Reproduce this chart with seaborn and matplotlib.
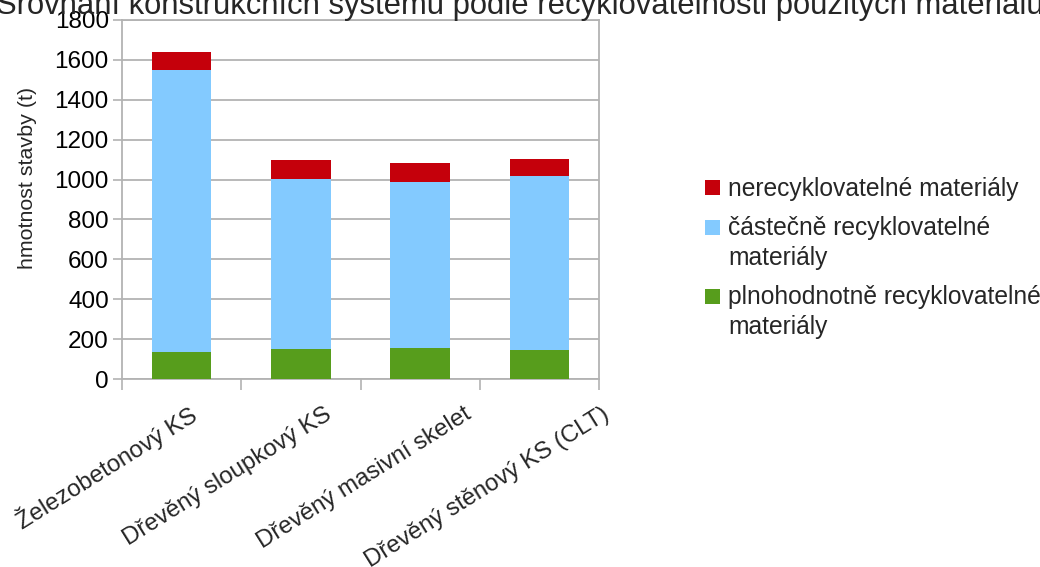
import numpy as np
import pandas as pd
import seaborn as sns
import matplotlib.pyplot as plt
from matplotlib.patches import Patch, Rectangle
from matplotlib.legend_handler import HandlerPatch
from matplotlib.transforms import ScaledTranslation

# Structural systems compared
systems = [
    "Železobetonový KS",
    "Dřevěný sloupkový KS",
    "Dřevěný masivní skelet",
    "Dřevěný stěnový KS (CLT)",
]

# Mass of the building by material recyclability (t)
fully_recyclable = [135, 150, 155, 145]
partly_recyclable = [1415, 853, 833, 873]
non_recyclable = [90, 95, 95, 85]

series_labels = [
    "nerecyklovatelné materiály",
    "částečně recyklovatelné\nmateriály",
    "plnohodnotně recyklovatelné\nmateriály",
]
series_colors = ["#C5000B", "#83CAFF", "#579D1C"]
y_ticks = list(range(0, 1801, 200))

title = "Srovnání konstrukčních systému podle recyklovatelnosti použitých materiálů"
y_label = "hmotnost stavby (t)"

sns.set_theme(style="white")
plt.rcParams["font.family"] = ["Liberation Sans", "DejaVu Sans"]

W, H = 1040, 567
fig = plt.figure(figsize=(W / 100, H / 100), dpi=100)
ax = fig.add_axes([122 / W, 1 - 379 / H, 477 / W, 359 / H])

green = np.array(fully_recyclable)
blue_top = green + np.array(partly_recyclable)
red_top = blue_top + np.array(non_recyclable)

# stacked bars: draw the cumulative tops first, then cover with lower layers
for heights, color in [(red_top, series_colors[0]),
                       (blue_top, series_colors[1]),
                       (green, series_colors[2])]:
    sns.barplot(x=systems, y=heights, color=color, saturation=1,
                width=0.5, linewidth=0, ax=ax, zorder=3)

ax.set_xlim(-0.5, 3.5)
ax.set_ylim(0, 1800)
ax.set_yticks(y_ticks)
ax.yaxis.grid(True, color="#b3b3b3", linewidth=1.3, zorder=0)
ax.set_axisbelow(True)
for s in ax.spines.values():
    s.set_color("#b3b3b3")
    s.set_linewidth(1.3)

ax.tick_params(axis="y", which="major", direction="out", length=6.5,
               width=1.2, color="#b3b3b3", pad=3, labelsize=17.5,
               left=True, labelcolor="black")
ax.set_xticks(range(len(systems)))
ax.set_xticks([-0.5, 0.5, 1.5, 2.5, 3.5], minor=True)
ax.tick_params(axis="x", which="major", length=0, pad=24, labelsize=17.3)
ax.tick_params(axis="x", which="minor", direction="out", length=7.7,
               width=1.2, color="#b3b3b3", bottom=True)

ax.set_xticklabels(systems, rotation=32, ha="right", va="center",
                   rotation_mode="anchor")
label_shift_px = [13, 29, 49, 68]
for lbl, dx in zip(ax.get_xticklabels(), label_shift_px):
    lbl.set_transform(lbl.get_transform() +
                      ScaledTranslation(dx / 100, 0, fig.dpi_scale_trans))

ax.set_ylabel(y_label, fontsize=15.4, va="center")
ax.yaxis.set_label_coords(-0.199, 0.56)
ax.set_xlabel("")

fig.text(520 / W, 1 - 14 / H, title, ha="center", va="baseline", fontsize=22.3)

# legend: swatch sits beside the first line of a wrapped label
legend_size = 17.7
line_spacing = 1.33
lift_pt = 0.5 * legend_size * line_spacing * 0.99


def first_line_patch(legend, orig_handle, xdescent, ydescent, width, height, fontsize):
    n_lines = orig_handle.get_label().count("\n") + 1
    lift = lift_pt * (n_lines - 1)
    return Rectangle((-xdescent, -ydescent + lift), width, height)


handles = [Patch(facecolor=c, edgecolor="none", label=l)
           for c, l in zip(series_colors, series_labels)]
leg = fig.legend(handles=handles, loc="upper left",
                 bbox_to_anchor=(705 / W, 1 - 177 / H), frameon=False,
                 fontsize=legend_size, handlelength=0.6, handleheight=0.6,
                 handletextpad=0.35, labelspacing=0.6, borderpad=0,
                 borderaxespad=0,
                 handler_map={Patch: HandlerPatch(patch_func=first_line_patch)})
for t in leg.get_texts():
    t.set_linespacing(line_spacing)

fig.savefig("out.png", dpi=100)
